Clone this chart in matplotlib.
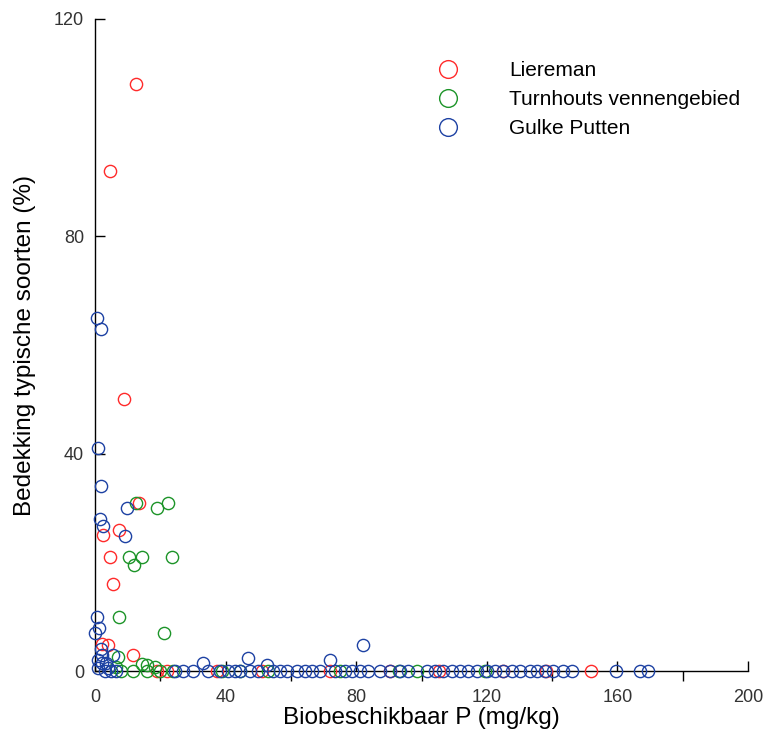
import matplotlib
matplotlib.use("Agg")
import matplotlib.pyplot as plt
from matplotlib.ticker import MultipleLocator

plt.rcParams['font.family'] = ['Liberation Sans', 'DejaVu Sans']

# Liereman
x_lier = [12.5, 4.5, 9, 13.5, 7.5, 2.5, 4.5, 5.5, 2, 4, 11.5,
          19, 22, 37.5, 51, 72, 90.5, 105.5, 125, 138, 152]
y_lier = [108, 92, 50, 31, 26, 25, 21, 16, 5, 4.8, 3,
          0, 0, 0, 0, 0, 0, 0, 0, 0, 0]

# Turnhouts vennengebied
x_turn = [12.5, 22.5, 19, 10.5, 12, 14.5, 23.5, 7.5, 21, 7, 6.5, 8, 11.5,
          14.5, 16, 18.5, 16, 20, 24, 39, 44.5, 53, 75, 93, 98.5, 119.5]
y_turn = [31, 31, 30, 21, 19.5, 21, 21, 10, 7, 2.5, 0.8, 0, 0,
          1.3, 1.1, 0.7, 0, 0, 0, 0, 0, 0, 0, 0, 0, 0]

# Gulke Putten
x_gulk = [0.5, 1.8, 1, 1.8, 1.5, 2.5, 9.7, 9.2, 0.6, 1.2, 0, 1.8, 5.5,
          82, 72, 47, 33, 52.7,
          1, 2, 3.5, 1, 3, 5, 6.5, 4, 2,
          24.5, 27, 30, 34.6, 38.3, 40.7, 42.9, 44.4, 47.5, 49.9, 54.5, 56.7,
          58.8, 61.9, 64.3, 66.5, 69, 73.5, 76.6, 78.7, 81.2, 83.6, 87.3,
          90.4, 93.4, 95.9, 101.7, 104.1, 106.6, 109.3, 111.8, 114.2, 117,
          120, 122.5, 125, 127.7, 130.2, 133.2, 135.4, 137.8, 140.3, 143.3,
          146.1, 159.6, 166.9, 169.4]
y_gulk = [65, 63, 41, 34, 28, 26.7, 30, 24.8, 10, 8, 7, 4, 2.9,
          4.8, 2, 2.4, 1.5, 1.1,
          2, 1.5, 1.5, 0.5, 0, 0, 0, 0.5, 3,
          0, 0, 0, 0, 0, 0, 0, 0, 0, 0, 0, 0,
          0, 0, 0, 0, 0, 0, 0, 0, 0, 0, 0,
          0, 0, 0, 0, 0, 0, 0, 0, 0, 0,
          0, 0, 0, 0, 0, 0, 0, 0, 0, 0,
          0, 0, 0, 0]

series = [
    ("Liereman", x_lier, y_lier, "#ff2a2a"),
    ("Turnhouts vennengebied", x_turn, y_turn, "#1c9428"),
    ("Gulke Putten", x_gulk, y_gulk, "#1d41a3"),
]

fig = plt.figure(figsize=(7.63, 7.31), dpi=100)
ax = fig.add_axes([95 / 763, 1 - 671 / 731, 653 / 763, 652 / 731])

for name, xs, ys, col in series:
    ax.plot(xs, ys, linestyle="none", marker="o", markersize=8.8,
            markerfacecolor="none", markeredgecolor=col,
            markeredgewidth=1.0, label=name, clip_on=False, zorder=3)

ax.set_xlim(0, 200)
ax.set_ylim(0, 120)
ax.spines['top'].set_visible(False)
ax.spines['right'].set_visible(False)
for s in ('left', 'bottom'):
    ax.spines[s].set_color('black')
    ax.spines[s].set_linewidth(1.0)

ax.xaxis.set_major_locator(MultipleLocator(40))
ax.xaxis.set_minor_locator(MultipleLocator(20))
ax.yaxis.set_major_locator(MultipleLocator(40))
ax.tick_params(axis='x', which='major', direction='in', length=7, width=1,
               pad=13, labelsize=13, labelcolor='#333333')
ax.tick_params(axis='x', which='minor', direction='out', length=7, width=1)
ax.tick_params(axis='y', which='major', direction='in', length=7, width=1,
               pad=8, labelsize=13, labelcolor='#333333')

ax.set_xlabel("Biobeschikbaar P (mg/kg)", fontsize=17.5, va='center')
ax.xaxis.set_label_coords(0.500, (671 - 718) / 652)
ax.set_ylabel("Bedekking typische soorten (%)", fontsize=17.5, va='center')
ax.yaxis.set_label_coords((25 - 95) / 653, (671 - 346) / 652)

leg = ax.legend(loc='upper left', bbox_to_anchor=(438 / 763, 1 - 61 / 731),
                bbox_transform=fig.transFigure, frameon=False, numpoints=1,
                markerscale=1.45, handlelength=1.0, handletextpad=2.4,
                labelspacing=0.48, borderpad=0, borderaxespad=0,
                fontsize=15)

fig.savefig("out.png", dpi=100)
